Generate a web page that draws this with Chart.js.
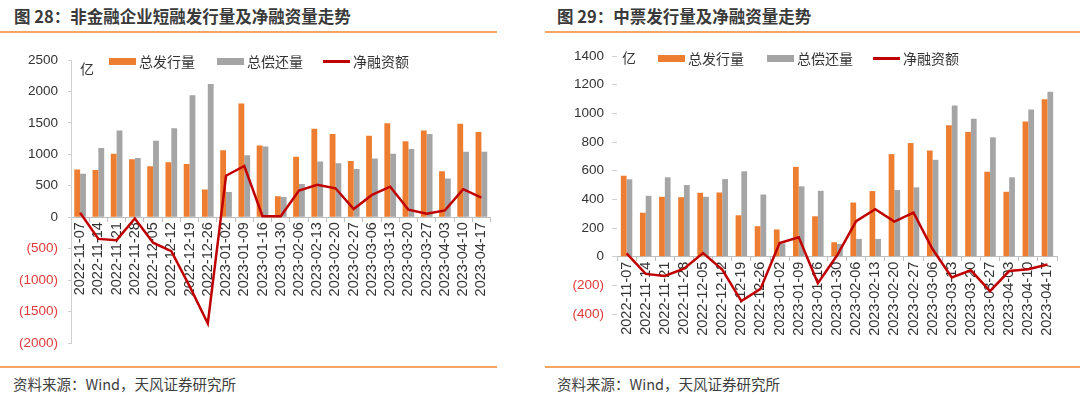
<!DOCTYPE html>
<html>
<head>
<meta charset="utf-8">
<script src="https://cdn.jsdelivr.net/npm/chart.js@4.4.0/dist/chart.umd.min.js"></script>
<style>
  body { margin: 0; background: #fff; font-family: "Liberation Sans", "Noto Sans CJK SC", sans-serif; color: #333; }
  #page { position: relative; width: 1080px; height: 398px; overflow: hidden; }
  .title { position: absolute; top: 4px; font-size: 16.5px; font-weight: bold; color: #3a3a3a; font-family: "Noto Sans CJK SC", sans-serif; }
  .rule { position: absolute; height: 1.5px; background: #f6a462; }
  .source { position: absolute; top: 373px; font-size: 14.5px; color: #404040; font-family: "Noto Sans CJK SC", sans-serif; }
  .unit { position: absolute; font-size: 14px; color: #333; font-family: "Noto Sans CJK SC", sans-serif; }
  .lg { position: absolute; font-size: 14px; color: #333; font-family: "Noto Sans CJK SC", sans-serif; line-height: 16px; display: flex; align-items: center; }
  .lg i { display: inline-block; width: 27px; margin-right: 3px; }
  canvas { position: absolute; }
</style>
</head>
<body>
<div id="page">
  <div class="title" style="left:14px">图 28：非金融企业短融发行量及净融资量走势</div>
  <div class="title" style="left:557px">图 29：中票发行量及净融资量走势</div>
  <div class="rule" style="left:0;top:31px;width:497px"></div>
  <div class="rule" style="left:545px;top:31px;width:535px"></div>
  <div class="rule" style="left:0;top:366px;width:497px"></div>
  <div class="rule" style="left:545px;top:366px;width:535px"></div>
  <div class="source" style="left:13px">资料来源：Wind，天风证券研究所</div>
  <div class="source" style="left:557px">资料来源：Wind，天风证券研究所</div>

  <canvas id="leftChart" style="left:0;top:40px"></canvas>
  <canvas id="rightChart" style="left:545px;top:40px"></canvas>

  <div class="unit" style="left:80px;top:58px">亿</div>
  <div class="unit" style="left:622px;top:47px">亿</div>

  <div class="lg" style="left:109px;top:53px"><i style="height:7px;background:#ED7D31"></i>总发行量</div>
  <div class="lg" style="left:217px;top:53px"><i style="height:7px;background:#A5A5A5"></i>总偿还量</div>
  <div class="lg" style="left:323px;top:53px"><i style="height:3px;background:#C00000"></i>净融资额</div>

  <div class="lg" style="left:658px;top:50px"><i style="height:7px;background:#ED7D31"></i>总发行量</div>
  <div class="lg" style="left:767px;top:50px"><i style="height:7px;background:#A5A5A5"></i>总偿还量</div>
  <div class="lg" style="left:873px;top:50px"><i style="height:3px;background:#C00000"></i>净融资额</div>
</div>

<script>
// weekly dates shared by both charts
const dates = ['2022-11-07', '2022-11-14', '2022-11-21', '2022-11-28', '2022-12-05', '2022-12-12',
  '2022-12-19', '2022-12-26', '2023-01-02', '2023-01-09', '2023-01-16', '2023-01-30', '2023-02-06',
  '2023-02-13', '2023-02-20', '2023-02-27', '2023-03-06', '2023-03-13', '2023-03-20', '2023-03-27',
  '2023-04-03', '2023-04-10', '2023-04-17'];

// Fig 28: short-term financing (亿)
const shortIssue = [760, 750, 1010, 920, 810, 875, 845, 440, 1065, 1810, 1140, 335, 960, 1405, 1325, 895, 1295, 1495, 1210, 1380, 730, 1485, 1355];
const shortRepay = [690, 1100, 1380, 940, 1215, 1415, 1940, 2120, 400, 985, 1125, 320, 530, 885, 860, 765, 935, 1010, 1085, 1325, 615, 1040, 1040];
const shortNet = [70, -345, -365, -20, -405, -540, -1095, -1690, 660, 815, 15, 15, 425, 515, 460, 130, 355, 485, 120, 55, 108, 445, 312];

// Fig 29: medium-term notes (亿)
const mtnIssue = [565, 307, 418, 415, 446, 448, 289, 213, 190, 627, 282, 101, 378, 458, 716, 793, 741, 917, 871, 593, 453, 943, 1098];
const mtnRepay = [540, 425, 554, 500, 418, 542, 596, 434, 93, 491, 460, 89, 124, 124, 465, 484, 676, 1056, 962, 833, 554, 1028, 1152];
const mtnNet = [23, -120, -134, -84, 25, -90, -310, -225, 95, 136, -185, 8, 248, 332, 245, 307, 52, -145, -95, -240, -100, -88, -55];

// y axis ranges
const leftTicks = { min: -2000, max: 2500, step: 500 };
const rightTicks = { min: -400, max: 1400, step: 200 };

Chart.defaults.font.family = '"Liberation Sans", "Noto Sans CJK SC", sans-serif';
Chart.defaults.animation = false;

function fmt(v) {
  return v < 0 ? '(' + (-v) + ')' : String(v);
}

function makeChart(id, w, h, issue, repay, net, range, opt) {
  const el = document.getElementById(id);
  el.width = w; el.height = h;
  el.style.width = w + 'px'; el.style.height = h + 'px';
  return new Chart(el, {
    type: 'bar',
    data: {
      labels: dates,
      datasets: [
        { type: 'line', label: '净融资额', data: net, borderColor: '#C00000', borderWidth: 2.5,
          pointRadius: 0, tension: 0, order: 0 },
        { label: '总发行量', data: issue, backgroundColor: '#ED7D31', order: 1,
          categoryPercentage: opt.catPct, barPercentage: 1 },
        { label: '总偿还量', data: repay, backgroundColor: '#A5A5A5', order: 1,
          categoryPercentage: opt.catPct, barPercentage: 1 }
      ]
    },
    options: {
      responsive: false,
      layout: { padding: opt.padding },
      plugins: { legend: { display: false }, tooltip: { enabled: false } },
      scales: {
        x: {
          position: { y: 0 },
          offset: true,
          grid: { offset: true, drawOnChartArea: false, drawTicks: true, tickLength: 4, color: '#bfbfbf' },
          border: { color: '#bfbfbf' },
          ticks: { autoSkip: false, minRotation: 90, maxRotation: 90, padding: 1,
            color: '#333', font: { size: 14.5 } }
        },
        y: {
          min: range.min, max: range.max,
          afterFit: (axis) => { axis.width = opt.axisW; },
          grid: { drawOnChartArea: false, drawTicks: true, tickLength: opt.tickLen, color: '#d0d0d0' },
          border: { display: opt.yBorder, color: '#d0d0d0' },
          ticks: {
            stepSize: range.step,
            padding: opt.tickPad,
            font: { size: 13.5 },
            color: (c) => (c.tick && c.tick.value < 0 ? '#E03A3A' : '#333'),
            callback: (v) => fmt(v)
          }
        }
      }
    }
  });
}

makeChart('leftChart', 500, 324, shortIssue, shortRepay, shortNet, leftTicks,
  { catPct: 0.64, padding: { top: 20, right: 9, bottom: 21, left: 0 }, axisW: 71,
    tickLen: 3, yBorder: true, tickPad: 10 });

makeChart('rightChart', 535, 320, mtnIssue, mtnRepay, mtnNet, rightTicks,
  { catPct: 0.6, padding: { top: 16, right: 23, bottom: 46, left: 0 }, axisW: 72,
    tickLen: 5, yBorder: false, tickPad: 8 });
</script>
</body>
</html>
